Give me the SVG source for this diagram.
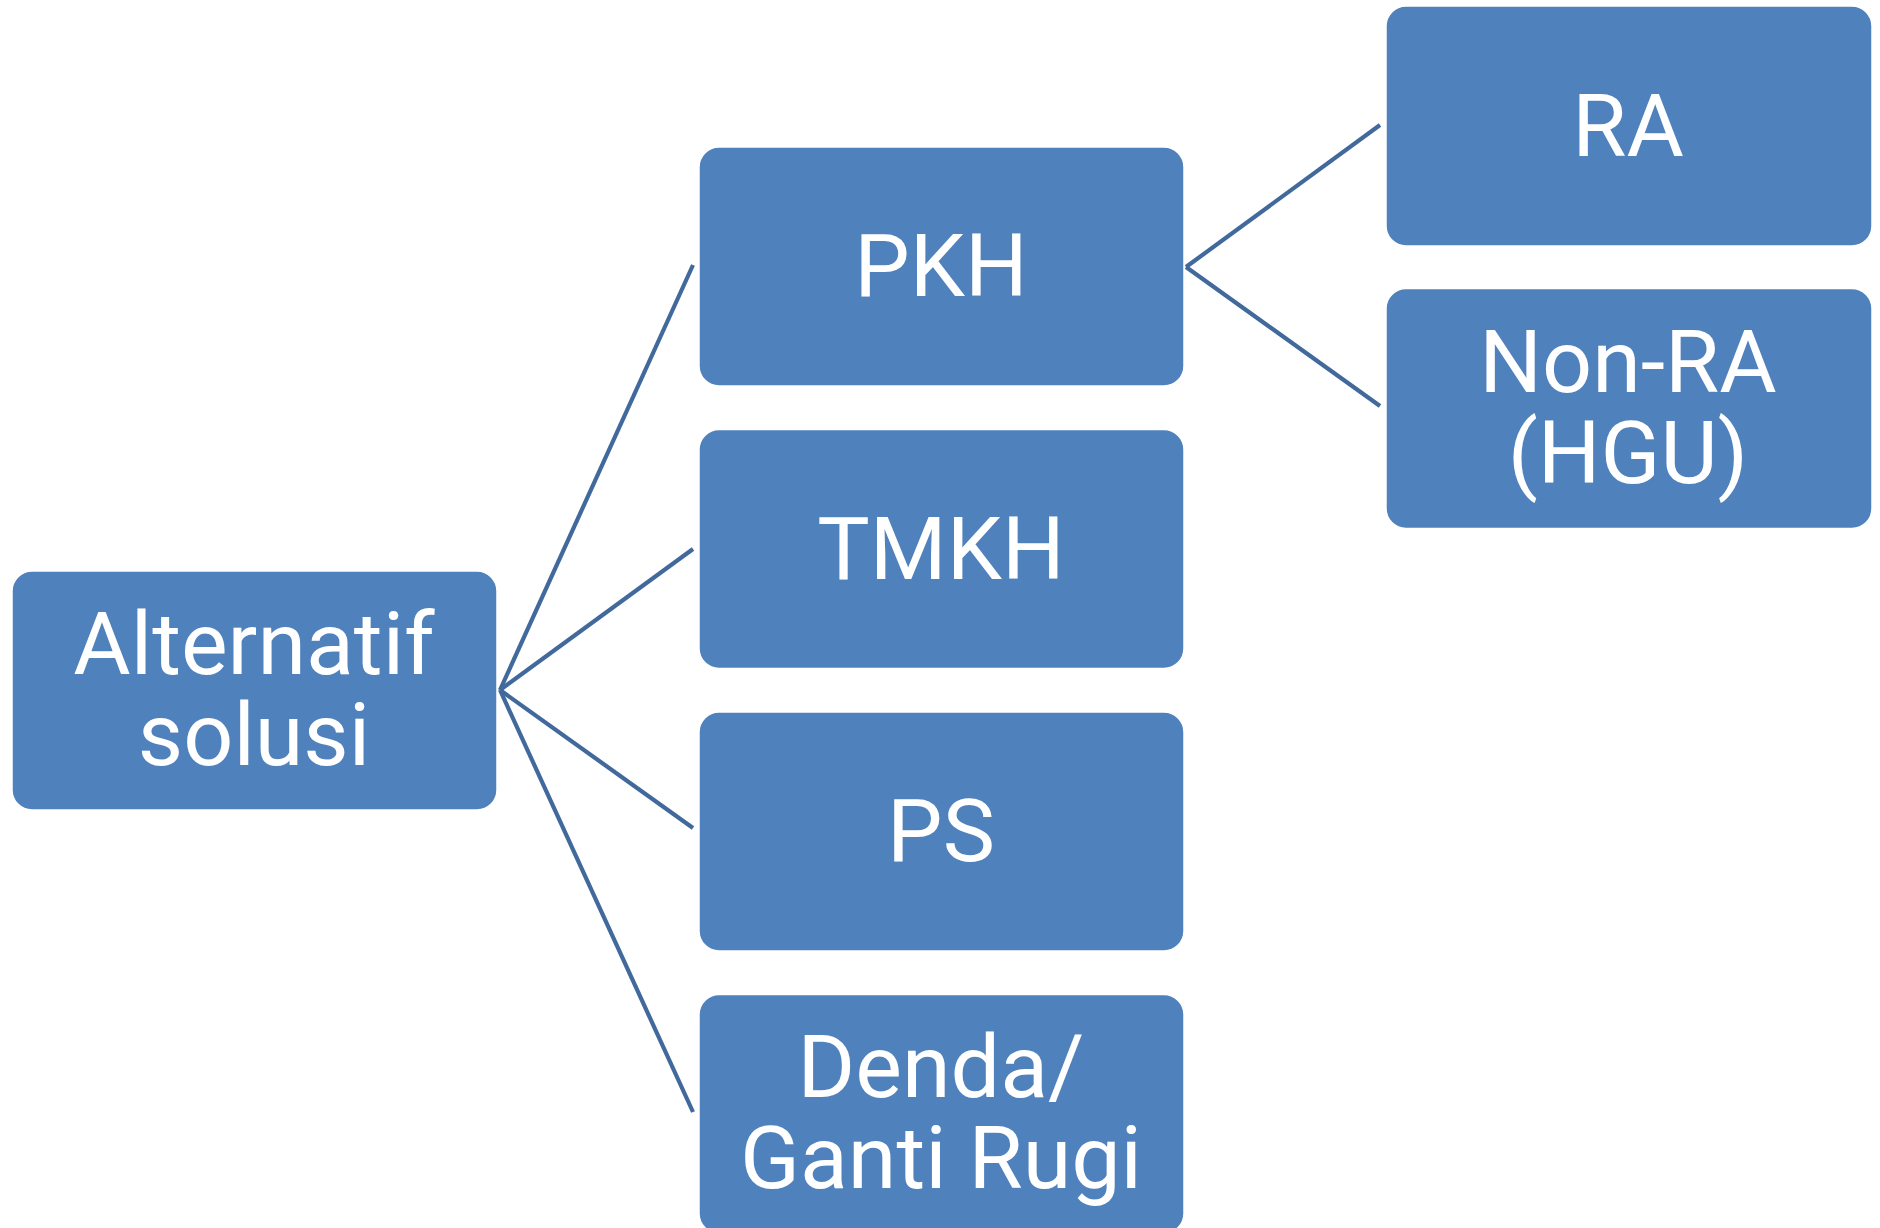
<svg xmlns="http://www.w3.org/2000/svg" width="1880" height="1228" viewBox="0 0 1880 1228">
<style>
.box{fill:#4F81BD;stroke:#FFFFFF;stroke-width:1.5}
.lbl{fill:#FFFFFF;font-family:Roboto,"Liberation Sans",sans-serif;font-size:88px;text-anchor:middle}
.conn{stroke:#41699C;stroke-width:4.2;fill:none}
</style>
<rect width="1880" height="1228" fill="#FFFFFF"/>
<g id="connectors">
<line class="conn" x1="500" y1="690" x2="693" y2="265"/>
<line class="conn" x1="500" y1="690" x2="693" y2="549"/>
<line class="conn" x1="500" y1="690" x2="693" y2="828"/>
<line class="conn" x1="500" y1="690" x2="693" y2="1112"/>
<line class="conn" x1="1186" y1="267" x2="1380" y2="125"/>
<line class="conn" x1="1186" y1="267" x2="1380" y2="406"/>
</g>
<g id="node-alternatif">
<rect class="box" x="12" y="571" width="485" height="239" rx="20"/>
<text class="lbl" x="254" y="674">Alternatif</text>
<text class="lbl" x="254" y="765">solusi</text>
</g>
<g id="node-pkh">
<rect class="box" x="699" y="147" width="485" height="239" rx="20"/>
<text class="lbl" x="941" y="296">PKH</text>
</g>
<g id="node-tmkh">
<rect class="box" x="699" y="429.5" width="485" height="239" rx="20"/>
<text class="lbl" x="941" y="579">TMKH</text>
</g>
<g id="node-ps">
<rect class="box" x="699" y="712" width="485" height="239" rx="20"/>
<text class="lbl" x="941" y="861">PS</text>
</g>
<g id="node-denda">
<rect class="box" x="699" y="994.5" width="485" height="239" rx="20"/>
<text class="lbl" x="941" y="1097">Denda/</text>
<text class="lbl" x="941" y="1188">Ganti Rugi</text>
</g>
<g id="node-ra">
<rect class="box" x="1386" y="6" width="486" height="240" rx="20"/>
<text class="lbl" x="1628" y="156">RA</text>
</g>
<g id="node-nonra">
<rect class="box" x="1386" y="288.5" width="486" height="240" rx="20"/>
<text class="lbl" x="1628" y="392">Non-RA</text>
<text class="lbl" x="1628" y="483">(HGU)</text>
</g>
</svg>
